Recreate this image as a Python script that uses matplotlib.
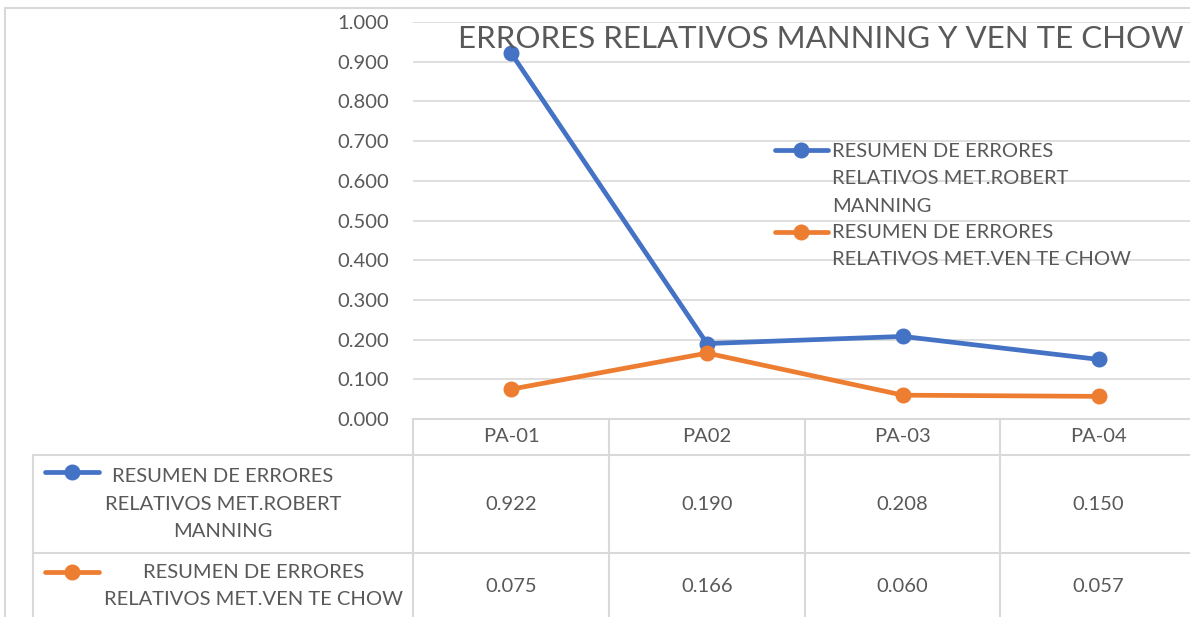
import matplotlib
matplotlib.use("Agg")
import matplotlib.pyplot as plt
from matplotlib.lines import Line2D

plt.rcParams["font.family"] = ["Lato", "DejaVu Sans"]

# data
categories = ["PA-01", "PA02", "PA-03", "PA-04"]
manning = [0.922, 0.190, 0.208, 0.150]
chow = [0.075, 0.166, 0.060, 0.057]
series_names = ["RESUMEN DE ERRORES\nRELATIVOS MET.ROBERT\nMANNING",
                "RESUMEN DE ERRORES\nRELATIVOS MET.VEN TE CHOW"]
title = "ERRORES RELATIVOS MANNING Y VEN TE CHOW"

BLUE = "#4472C4"
ORANGE = "#ED7D31"
TXT = "#595959"
GRID = "#D9D9D9"
FS = 14.5
LS = 1.75

W, H = 1190, 617
fig = plt.figure(figsize=(W / 100, H / 100), dpi=100)

# pixel helpers
x0, x1 = 413, 1197
y_top, y_bot = 22, 419
ax = fig.add_axes([x0 / W, 1 - y_bot / H, (x1 - x0) / W, (y_bot - y_top) / H])
xs = list(range(len(categories)))
ax.plot(xs, manning, color=BLUE, lw=3.4, marker="o", ms=10.5, solid_capstyle="round", zorder=3)
ax.plot(xs, chow, color=ORANGE, lw=3.4, marker="o", ms=10.5, solid_capstyle="round", zorder=3)
ax.set_xlim(-0.5, len(categories) - 0.5)
ax.set_ylim(0, 1.0)
ax.set_yticks([i / 10 for i in range(11)])
ax.set_yticklabels(["%.3f" % (i / 10) for i in range(11)], fontsize=FS, color=TXT)
ax.tick_params(axis="y", length=0, pad=17)
ax.set_xticks([])
ax.grid(axis="y", color=GRID, lw=1.2)
ax.set_axisbelow(True)
for s in ax.spines.values():
    s.set_visible(False)

# overlay in pixel coordinates for the frame, title, legend and data table
ov = fig.add_axes([0, 0, 1, 1], zorder=5)
ov.set_xlim(0, W)
ov.set_ylim(H, 0)
ov.axis("off")
ov.patch.set_alpha(0)

# outer border
ov.plot([5, 5, W + 5], [H + 5, 8, 8], color=GRID, lw=1.5)

ov.text(458, 39, title, fontsize=22.5, color=TXT, va="center", ha="left")

# legend inside plot
for y, yc, c, name in zip([150, 232], [179, 246], [BLUE, ORANGE], series_names):
    ov.add_line(Line2D([775, 828], [y, y], color=c, lw=3.4, solid_capstyle="round"))
    ov.plot(801, y, "o", color=c, ms=10.5)
    ov.text(832, yc, name, fontsize=FS, color=TXT, va="center", ha="left", linespacing=LS)

# data table
col_edges = [413, 609, 805, 1000, W]
ov.plot([413, W], [419, 419], color=GRID, lw=1.5)
ov.plot([33, W], [455, 455], color=GRID, lw=1.5)
ov.plot([33, W], [553, 553], color=GRID, lw=1.5)
ov.plot([33, 33], [455, H], color=GRID, lw=1.5)
for xe in col_edges[:-1]:
    ov.plot([xe, xe], [419, H], color=GRID, lw=1.5)
for i, cat in enumerate(categories):
    cx = (col_edges[i] + col_edges[i + 1]) / 2 if i < 3 else 1098
    ov.text(cx, 437, cat, fontsize=FS, color=TXT, ha="center", va="center")
    ov.text(cx, 504, "%.3f" % manning[i], fontsize=FS, color=TXT, ha="center", va="center")
    ov.text(cx, 586, "%.3f" % chow[i], fontsize=FS, color=TXT, ha="center", va="center")

# row headers with legend keys
ov.add_line(Line2D([45, 99], [472, 472], color=BLUE, lw=3.4, solid_capstyle="round"))
ov.plot(72, 472, "o", color=BLUE, ms=10.5)
ov.text(223, 504, series_names[0], fontsize=FS, color=TXT, ha="center", va="center", linespacing=LS)
ov.add_line(Line2D([45, 99], [572, 572], color=ORANGE, lw=3.4, solid_capstyle="round"))
ov.plot(72, 572, "o", color=ORANGE, ms=10.5)
ov.text(254, 586, series_names[1], fontsize=FS, color=TXT, ha="center", va="center", linespacing=LS)

fig.savefig("out.png", dpi=100)
